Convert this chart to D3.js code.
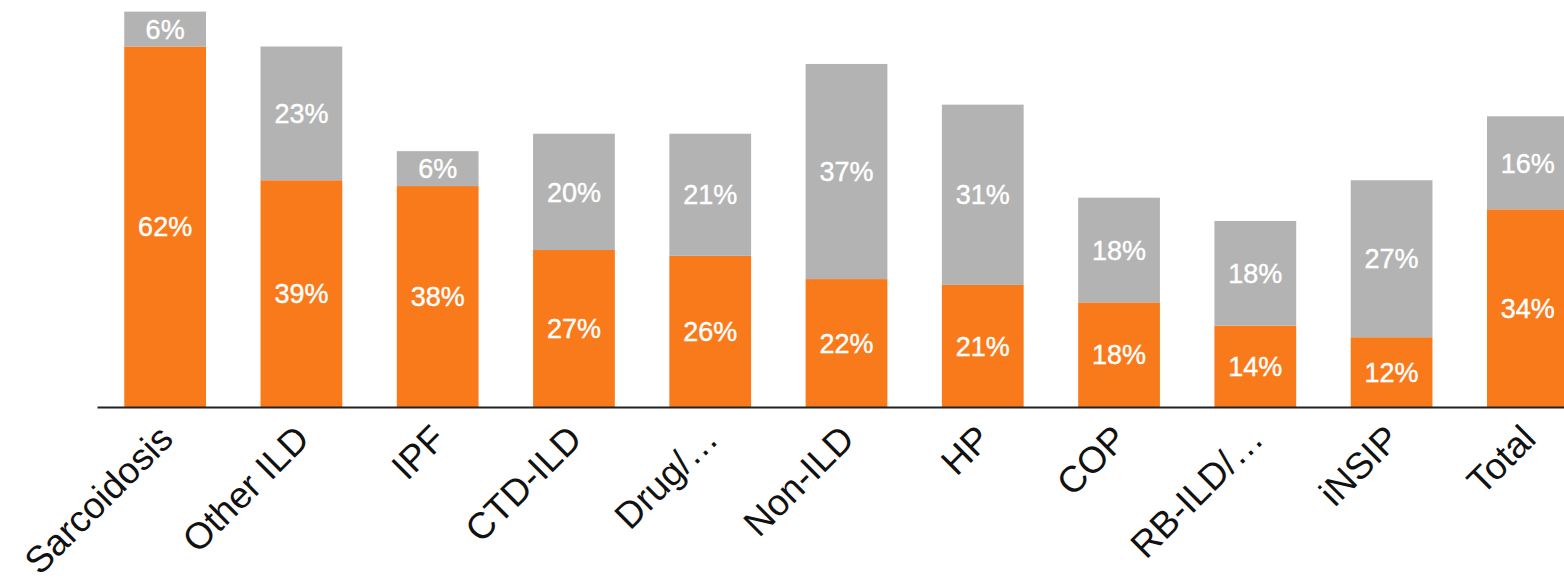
<!DOCTYPE html>
<html>
<head>
<meta charset="utf-8">
<script src="https://cdn.jsdelivr.net/npm/d3@7"></script>
<style>
  html, body { margin: 0; padding: 0; background: #fff; overflow: hidden; }
  svg { display: block; }
</style>
</head>
<body>
<svg id="chart" width="1564" height="583"></svg>
<script>
// Diagnosis groups along the x axis
const categories = ["Sarcoidosis", "Other ILD", "IPF", "CTD-ILD", "Drug/…", "Non-ILD", "HP", "COP", "RB-ILD/…", "iNSIP", "Total"];
// Lower (orange) segment, percent
const lowerValues = [62, 39, 38, 27, 26, 22, 21, 18, 14, 12, 34];
// Upper (grey) segment, percent
const upperValues = [6, 23, 6, 20, 21, 37, 31, 18, 18, 27, 16];

const colors = { lower: "#F97A1B", upper: "#B3B3B3" };

const svg = d3.select("#chart");
const baseY = 407;

const rows = categories.map((c, i) => ({ cat: c, lower: lowerValues[i], upper: upperValues[i] }));
const stack = d3.stack().keys(["lower", "upper"])(rows);

const x = d3.scaleBand()
  .domain(categories)
  .range([97, 1596])
  .paddingInner(0.4)
  .paddingOuter(0.2);

const y = d3.scaleLinear().domain([0, 70]).range([baseY, 0]);

// Stacked bars
const layers = svg.append("g").selectAll("g")
  .data(stack)
  .join("g")
  .attr("fill", d => colors[d.key]);

layers.selectAll("rect")
  .data(d => d.map(p => ({ p, key: d.key })))
  .join("rect")
  .attr("x", d => x(d.p.data.cat))
  .attr("width", x.bandwidth())
  .attr("y", d => y(d.p[1]))
  .attr("height", d => y(d.p[0]) - y(d.p[1]));

// Percent labels centred in each segment
layers.selectAll("text")
  .data(d => d.map(p => ({ p, key: d.key })))
  .join("text")
  .attr("x", d => x(d.p.data.cat) + x.bandwidth() / 2)
  .attr("y", d => (y(d.p[0]) + y(d.p[1])) / 2)
  .attr("dy", "0.36em")
  .attr("text-anchor", "middle")
  .attr("fill", "#fff")
  .attr("stroke", "#fff")
  .attr("stroke-width", 0.4)
  .style("font-family", "'Liberation Sans', Arial, Helvetica, sans-serif")
  .style("font-size", "27px")
  .text(d => (d.p[1] - d.p[0]) + "%");

// Category axis
const xAxis = d3.axisBottom(x).tickSize(0).tickSizeOuter(0);
const axisG = svg.append("g")
  .attr("transform", `translate(0,${baseY})`)
  .call(xAxis);

axisG.select(".domain")
  .attr("stroke", "#222")
  .attr("stroke-width", 2);

axisG.selectAll(".tick text")
  .attr("x", 0)
  .attr("y", 0)
  .attr("dy", 0)
  .attr("transform", "translate(10,34) rotate(-45)")
  .attr("text-anchor", "end")
  .attr("fill", "#111")
  .style("font-family", "'Liberation Sans', Arial, Helvetica, sans-serif")
  .style("font-size", "37px");
</script>
</body>
</html>
